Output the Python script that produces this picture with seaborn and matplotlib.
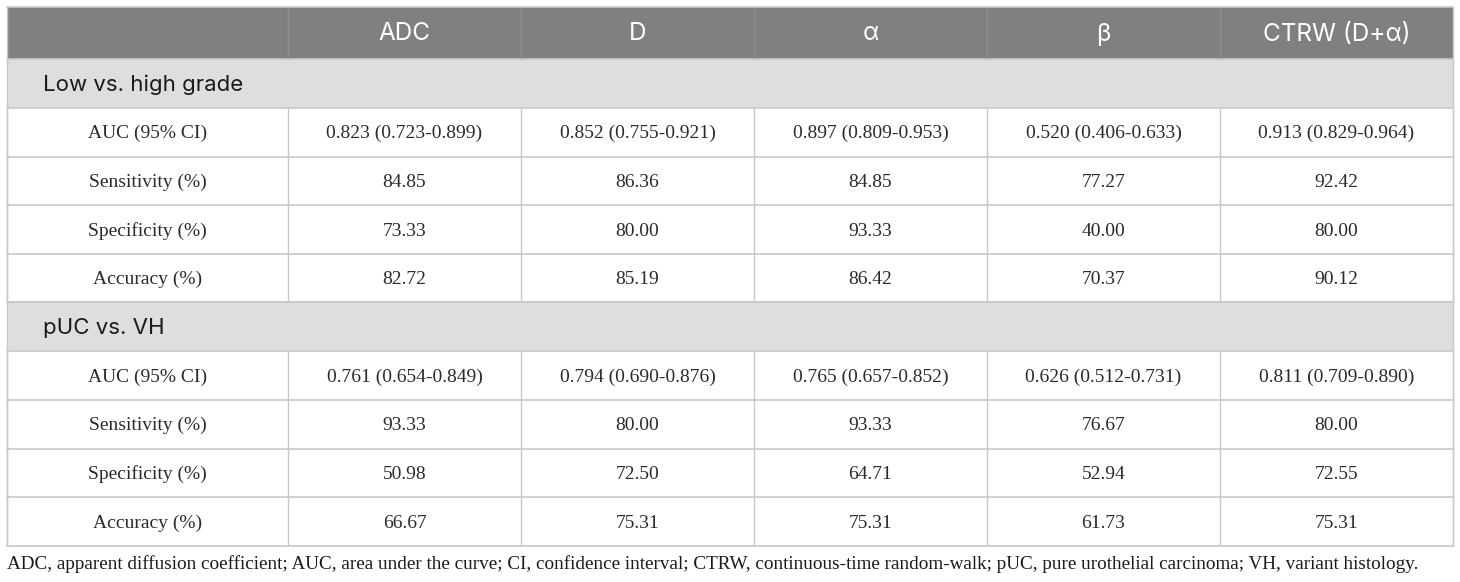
import matplotlib
matplotlib.use("Agg")
import matplotlib.pyplot as plt
from matplotlib.patches import Rectangle
import seaborn as sns

# ---- data ----
columns = ["ADC", "D", "α", "β", "CTRW (D+α)"]
sections = ["Low vs. high grade", "pUC vs. VH"]
metrics = ["AUC (95% CI)", "Sensitivity (%)", "Specificity (%)", "Accuracy (%)"]

low_high_auc = ["0.823 (0.723-0.899)", "0.852 (0.755-0.921)", "0.897 (0.809-0.953)",
                "0.520 (0.406-0.633)", "0.913 (0.829-0.964)"]
low_high_sens = ["84.85", "86.36", "84.85", "77.27", "92.42"]
low_high_spec = ["73.33", "80.00", "93.33", "40.00", "80.00"]
low_high_acc = ["82.72", "85.19", "86.42", "70.37", "90.12"]

puc_vh_auc = ["0.761 (0.654-0.849)", "0.794 (0.690-0.876)", "0.765 (0.657-0.852)",
              "0.626 (0.512-0.731)", "0.811 (0.709-0.890)"]
puc_vh_sens = ["93.33", "80.00", "93.33", "76.67", "80.00"]
puc_vh_spec = ["50.98", "72.50", "64.71", "52.94", "72.55"]
puc_vh_acc = ["66.67", "75.31", "75.31", "61.73", "75.31"]

footnote = ("ADC, apparent diffusion coefficient; AUC, area under the curve; CI, confidence interval; "
            "CTRW, continuous-time random-walk; pUC, pure urothelial carcinoma; VH, variant histology.")

section_rows = [
    [low_high_auc, low_high_sens, low_high_spec, low_high_acc],
    [puc_vh_auc, puc_vh_sens, puc_vh_spec, puc_vh_acc],
]

# ---- style ----
sns.set_theme(style="white")
SANS = ["Inter", "DejaVu Sans"]
SERIF = ["Liberation Serif", "DejaVu Serif"]

HEADER_BG = "#808080"
SECTION_BG = "#dedede"
GRID = "#c8c8c8"
TEXT = "#2a2a2a"

W, H = 1460, 582
fig = plt.figure(figsize=(W / 100, H / 100), dpi=100)
ax = fig.add_axes([0, 0, 1, 1])
ax.set_xlim(0, W)
ax.set_ylim(H, 0)
ax.axis("off")

# layout (pixels)
x_edges = [7, 288, 521, 754, 987, 1220, 1453]
top = 7
header_h = 52
section_h = 49
row_h = 48.6

# header
ax.add_patch(Rectangle((x_edges[0], top), x_edges[-1] - x_edges[0], header_h,
                       facecolor=HEADER_BG, edgecolor="none", zorder=1))
for i, name in enumerate(columns):
    cx = (x_edges[i + 1] + x_edges[i + 2]) / 2
    ax.text(cx, top + header_h / 2 + 1, name, ha="center", va="center",
            color="white", fontsize=17.5, family=SANS, zorder=3)
for xe in x_edges[1:-1]:
    ax.plot([xe, xe], [top, top + header_h], color="#8e8e8e", lw=1, zorder=2)

y = top + header_h
hlines = [top]
for s, sec in enumerate(sections):
    ax.add_patch(Rectangle((x_edges[0], y), x_edges[-1] - x_edges[0], section_h,
                           facecolor=SECTION_BG, edgecolor="none", zorder=1))
    ax.text(43, y + section_h / 2 + 1, sec, ha="left", va="center",
            color="#1a1a1a", fontsize=16, family=SANS, zorder=3)
    hlines.append(y)
    y += section_h
    hlines.append(y)
    for m, metric in enumerate(metrics):
        vals = section_rows[s][m]
        cy = y + row_h / 2 + 1.5
        ax.text((x_edges[0] + x_edges[1]) / 2, cy, metric, ha="center", va="center",
                color=TEXT, fontsize=14, family=SERIF, zorder=3)
        for c, v in enumerate(vals):
            cx = (x_edges[c + 1] + x_edges[c + 2]) / 2
            ax.text(cx, cy, v, ha="center", va="center",
                    color=TEXT, fontsize=14, family=SERIF, zorder=3)
        for xe in x_edges:
            ax.plot([xe, xe], [y, y + row_h], color=GRID, lw=1, zorder=2)
        y += row_h
        hlines.append(y)

for hy in hlines:
    ax.plot([x_edges[0], x_edges[-1]], [hy, hy], color=GRID, lw=1.2, zorder=2)
ax.plot([x_edges[-1], x_edges[-1]], [top, y], color=GRID, lw=1, zorder=2)
ax.plot([x_edges[0], x_edges[0]], [top, y], color=GRID, lw=1, zorder=2)

ax.text(7, 564, footnote, ha="left", va="center", color="#1a1a1a",
        fontsize=13.8, family=SERIF, zorder=3)

fig.savefig("out.png", dpi=100)
